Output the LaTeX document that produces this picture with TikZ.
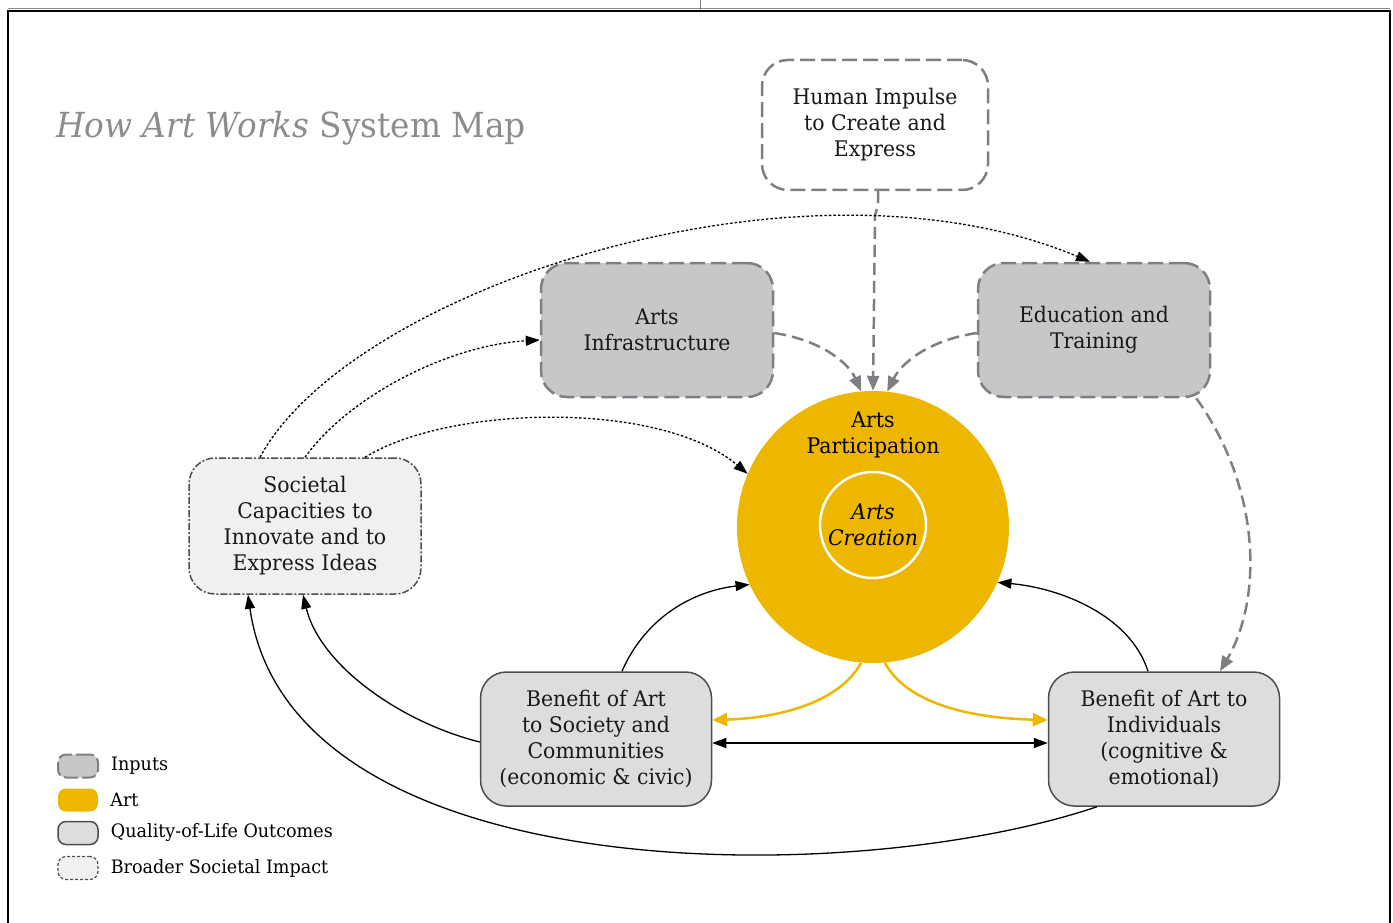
\documentclass[tikz,border=0pt]{standalone}
\usepackage{fontspec}
\setmainfont{DejaVu Serif}[FakeStretch=0.95]
\usetikzlibrary{arrows.meta}
\definecolor{inputfill}{HTML}{C6C7C9}
\definecolor{inputline}{HTML}{7E7F82}
\definecolor{artgold}{HTML}{EDB700}
\definecolor{qolfill}{HTML}{DCDDDF}
\definecolor{qolline}{HTML}{4D4D4F}
\definecolor{broadfill}{HTML}{F0F0F0}
\definecolor{titlegray}{HTML}{8A8C8F}
\newcommand\bxfont{\fontsize{21.5}{26}\selectfont}
\newcommand\lgfont{\fontsize{18.5}{20}\selectfont}
\newcommand\ttlfont{\fontsize{34.5}{38}\selectfont}
\tikzset{
  box/.style={rounded corners=26pt, minimum width=232pt, minimum height=134pt, align=center, inner sep=0pt, font=\bxfont, text=black!90},
  inputbox/.style={box, fill=inputfill, draw=inputline, line width=2.5pt, dash pattern=on 15pt off 6pt},
  hibox/.style={box, fill=white, draw=inputline, line width=2.5pt, dash pattern=on 15pt off 6pt, minimum width=226pt, minimum height=130pt},
  qolbox/.style={box, fill=qolfill, draw=qolline, line width=1.5pt, minimum width=231pt},
  broadbox/.style={box, fill=broadfill, draw=qolline, line width=1.5pt, dash pattern=on 7pt off 2pt on 2pt off 2pt, minimum height=136pt},
  legbox/.style={rounded corners=8pt, minimum width=40pt, minimum height=23pt, inner sep=0pt},
  legtext/.style={anchor=west, font=\lgfont, inner sep=0pt},
  graylink/.style={draw=inputline, line width=2.5pt, dash pattern=on 12pt off 6pt, -{Triangle[length=15pt,width=12pt]}},
  blacklink/.style={draw=black, line width=1.3pt, -{Triangle[length=14pt,width=10pt]}},
  dotlink/.style={blacklink, dash pattern=on 2.5pt off 2pt},
  goldlink/.style={draw=artgold, line width=2.5pt, -{Triangle[length=15pt,width=13pt]}}
}
\begin{document}
\begin{tikzpicture}[x=1pt,y=-1pt]
\useasboundingbox (0,0) rectangle (1393,923);
% frame
\draw[line width=1pt, black!45] (8,9) -- (1390,9);
\draw[line width=2pt] (8,930) -- (8,11) -- (1390,11) -- (1390,930);
\draw[line width=0.8pt, black!50] (700,0) -- (700,10);
% title
\node[anchor=west, font=\ttlfont, text=titlegray, inner sep=0pt] (title) at (56,128) {\textit{How Art Works} System Map};
% main circle
\node[circle, fill=artgold, minimum size=272pt, inner sep=0pt] (circ) at (873,527) {};
\node[align=center, font=\bxfont, inner sep=0pt] (ap) at (873,435) {Arts\\Participation};
\node[circle, draw=white, line width=2.5pt, minimum size=106pt, inner sep=0pt, align=center, font=\bxfont\itshape] (ac) at (873,525) {Arts\\Creation};
% boxes
\node[hibox] (hi) at (875,125) {Human Impulse\\to Create and\\Express};
\node[inputbox] (infra) at (657,330) {Arts\\Infrastructure};
\node[inputbox] (edu) at (1094,330) {Education and\\Training};
\node[broadbox] (sc) at (305,526) {Societal\\Capacities to\\Innovate and to\\Express Ideas};
\node[qolbox] (sb) at (596,739) {Benefit of Art\\to Society and\\Communities\\(economic \& civic)};
\node[qolbox] (ib) at (1164,739) {Benefit of Art to\\Individuals\\(cognitive \&\\emotional)};
% gray input links
\draw[graylink] ([xshift=3pt]hi.south) -- ++(0,14) -- ++(-3,10) -- (circ.90);
\draw[graylink] ([yshift=-3pt]infra.east) .. controls (820,340) and (848,362) .. (circ.95);
\draw[graylink] ([yshift=-3pt]edu.west) .. controls (930,340) and (902,362) .. (circ.84);
\draw[graylink] ([xshift=-15pt]edu.south east) .. controls (1262,490) and (1262,600) .. ([xshift=56pt]ib.north);
% dotted links from societal capacities
\draw[dotlink] ([xshift=-45pt]sc.north) .. controls (350,290) and (800,140) .. ([xshift=-4pt]edu.north);
\draw[dotlink] (sc.north) .. controls (350,395) and (450,345) .. ([yshift=-10pt]infra.west);
\draw[dotlink] ([xshift=60pt]sc.north) .. controls (450,405) and (660,400) .. (circ.157);
% solid black links
\draw[blacklink] ([xshift=26pt]sb.north) .. controls (648,612) and (700,590) .. (circ.205);
\draw[blacklink] ([xshift=-16pt]ib.north) .. controls (1130,615) and (1060,588) .. (circ.336);
\draw[blacklink] ([yshift=-3pt]sb.west) .. controls (400,722) and (320,665) .. ([xshift=-2pt]sc.south);
\draw[blacklink] ([xshift=-67pt]ib.south) .. controls (850,890) and (290,890) .. ([xshift=-57pt]sc.south);
\draw[draw=black, line width=1.3pt, {Triangle[length=14pt,width=10pt]}-{Triangle[length=14pt,width=10pt]}] ([yshift=-4pt]sb.east) -- ([yshift=-4pt]ib.west);
% gold links
\draw[goldlink] (circ.265) .. controls (840,702) and (780,718) .. ([yshift=19pt]sb.east);
\draw[goldlink] (circ.275) .. controls (906,702) and (966,718) .. ([yshift=19pt]ib.west);
% legend
\node[legbox, fill=inputfill, draw=inputline, line width=2pt, dash pattern=on 14pt off 4pt] (l1) at (78,766) {};
\node[legbox, fill=artgold] (l2) at (78,800) {};
\node[legbox, fill=qolfill, draw=qolline, line width=1.5pt] (l3) at (78,833) {};
\node[legbox, fill=broadfill, draw=qolline, line width=1.2pt, dash pattern=on 3pt off 2pt] (l4) at (78,868) {};
\node[legtext] (t1) at (l1.east) [xshift=12pt] {Inputs};
\node[legtext] (t2) at (l2.east) [xshift=12pt] {Art};
\node[legtext] (t3) at (l3.east) [xshift=12pt] {Quality-of-Life Outcomes};
\node[legtext] (t4) at (l4.east) [xshift=12pt] {Broader Societal Impact};
\end{tikzpicture}
\end{document}
